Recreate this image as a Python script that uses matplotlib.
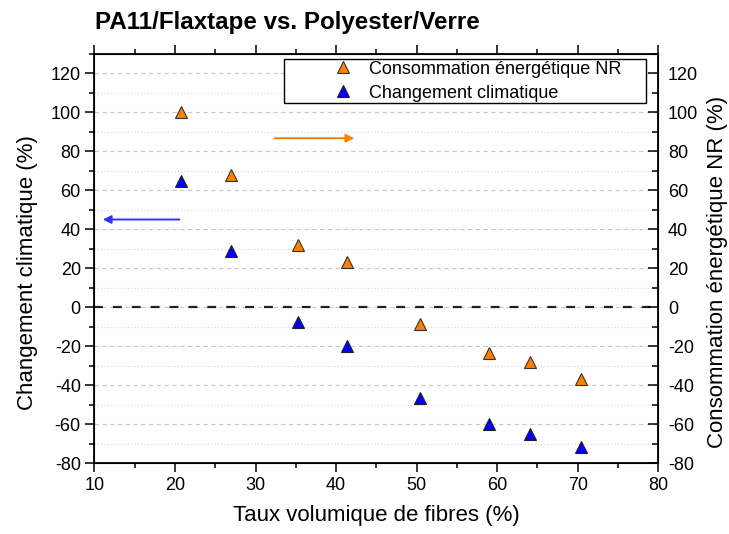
import matplotlib.pyplot as plt
from matplotlib.ticker import MultipleLocator
from matplotlib.patches import Rectangle

plt.rcParams['font.family'] = ['Liberation Sans', 'DejaVu Sans']
plt.rcParams['axes.unicode_minus'] = False

# fibre volume fraction (%)
taux = [20.8, 27.0, 35.3, 41.4, 50.4, 59.0, 64.1, 70.4]
# non-renewable energy consumption (%)
conso_nr = [100.3, 67.6, 32.0, 23.2, -8.6, -23.4, -28.0, -36.6]
# climate change (%)
climat = [65.0, 29.0, -7.5, -19.8, -46.5, -59.8, -64.8, -71.5]

fig = plt.figure(figsize=(7.29, 5.34), dpi=100)
ax = fig.add_axes([94.4/729, 1 - 463.2/534, (658.3-94.4)/729, (463.2-53.8)/534])

ax.set_xlim(10, 80)
ax.set_ylim(-80, 130)
ax.xaxis.set_major_locator(MultipleLocator(10))
ax.xaxis.set_minor_locator(MultipleLocator(5))
ax.yaxis.set_major_locator(MultipleLocator(20))
ax.yaxis.set_minor_locator(MultipleLocator(10))

ax.grid(True, which='major', axis='y', color='#c8c8c8', linestyle=(0, (4, 3)), linewidth=0.8)
ax.grid(True, which='minor', axis='y', color='#d8d8d8', linestyle=(0, (1, 2)), linewidth=0.8)
ax.set_axisbelow(True)

ax.axhline(0, color='#222222', linestyle=(0, (4, 4.5)), linewidth=1.6, zorder=2)

ax.plot(taux, conso_nr, linestyle='none', marker='^', markersize=8,
        markerfacecolor='#ff8000', markeredgecolor='#333333', markeredgewidth=0.8,
        label='Consommation énergétique NR', zorder=3)
ax.plot(taux, climat, linestyle='none', marker='^', markersize=8,
        markerfacecolor='#0000ff', markeredgecolor='#222222', markeredgewidth=0.8,
        label='Changement climatique', zorder=3)

# arrows pointing to the axis of each series
ax.annotate('', xy=(42.6, 86.7), xytext=(32.0, 86.7),
            arrowprops=dict(arrowstyle='-|>', color='#ff8000', lw=1.4, mutation_scale=12))
ax.annotate('', xy=(10.7, 45.0), xytext=(20.9, 45.0),
            arrowprops=dict(arrowstyle='-|>', color='#3030ff', lw=1.4, mutation_scale=12))

for s in ax.spines.values():
    s.set_linewidth(1.3)
ax.tick_params(which='both', direction='out', labelsize=13, width=1.1)
ax.tick_params(which='major', length=6.3)
ax.tick_params(which='minor', length=3.6)
ax.tick_params(axis='x', top=True, which='both')

ax.set_xlabel('Taux volumique de fibres (%)', fontsize=16, labelpad=8)
ax.set_ylabel('Changement climatique (%)', fontsize=16)
ax.yaxis.set_label_coords(-0.100, 0.466)

ax2 = ax.twinx()
ax2.set_ylim(-80, 130)
ax2.yaxis.set_major_locator(MultipleLocator(20))
ax2.yaxis.set_minor_locator(MultipleLocator(10))
ax2.tick_params(which='both', direction='in', labelsize=13, width=1.1, pad=7)
ax2.tick_params(which='major', length=7)
ax2.tick_params(which='minor', length=4)
ax2.set_ylabel('Consommation énergétique NR (%)', fontsize=16)
ax2.yaxis.set_label_coords(1.086, 0.466)

# legend box drawn like the original (wide left margin)
ax2.add_patch(Rectangle((0.337, 0.880), 0.641, 0.108, transform=ax.transAxes,
                        facecolor='white', edgecolor='black', linewidth=1.0, zorder=4))
leg = ax2.legend(*ax.get_legend_handles_labels(), loc='center left',
                 bbox_to_anchor=(0.424, 0.933), fontsize=13, frameon=False,
                 borderpad=0, borderaxespad=0, handlelength=1.0, handletextpad=0.95,
                 labelspacing=0.38)
leg.set_zorder(5)

fig.text(95/729, 1 - 22/534, 'PA11/Flaxtape vs. Polyester/Verre', fontsize=17.4,
         fontweight='bold', va='center', ha='left')

fig.savefig('out.png', dpi=100)
